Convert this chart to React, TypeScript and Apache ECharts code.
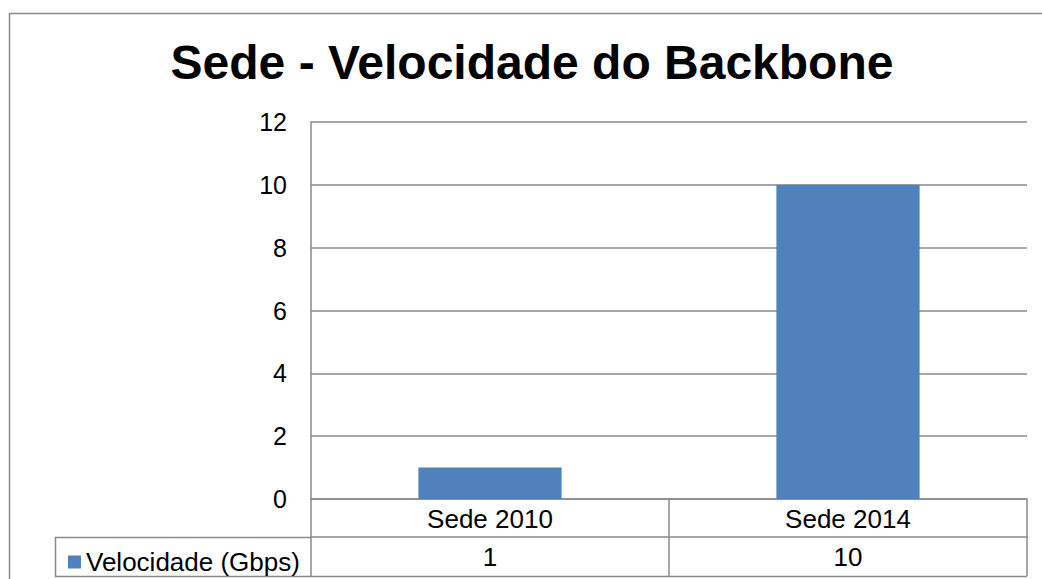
import React, { useEffect, useRef } from "react";
import * as echarts from "echarts";

const titleText = "Sede - Velocidade do Backbone";
const seriesName = "Velocidade (Gbps)";
const categories = ["Sede 2010", "Sede 2014"];
const values = [1, 10];
const yTicks = { min: 0, max: 12, interval: 2 };

const FONT = "'Liberation Sans', Arial, Helvetica, sans-serif";
const GRAY = "#8a8a8a";
const BLUE = "#4F81BD";
const LW = 1.5;

export default function App() {
  const ref = useRef<HTMLDivElement>(null);
  useEffect(() => {
    if (!ref.current) return;
    const chart = echarts.init(ref.current, undefined, { renderer: "svg" });
    chart.setOption({
      animation: false,
      backgroundColor: "#ffffff",
      textStyle: { fontFamily: FONT },
      grid: { left: 311, right: 15, top: 122, bottom: 80, containLabel: false },
      legend: {
        show: true,
        left: 63,
        top: 544,
        icon: "rect",
        itemWidth: 13,
        itemHeight: 13,
        data: [seriesName],
        textStyle: { fontSize: 26, color: "#000", fontFamily: FONT },
        selectedMode: false,
      },
      xAxis: [
        {
          type: "category",
          data: categories,
          position: "bottom",
          boundaryGap: true,
          axisLine: { show: true, lineStyle: { color: GRAY, width: LW } },
          axisTick: { show: true, alignWithLabel: false, interval: 0, length: 38, inside: false, lineStyle: { color: GRAY, width: LW } },
          axisLabel: { fontSize: 26, color: "#000", margin: 7, fontFamily: FONT, interval: 0 },
          splitLine: { show: false },
        },
        {
          type: "category",
          data: categories,
          position: "bottom",
          offset: 38,
          boundaryGap: true,
          axisLine: { show: true, lineStyle: { color: GRAY, width: LW } },
          axisTick: { show: true, alignWithLabel: false, interval: 0, length: 39, inside: false, lineStyle: { color: GRAY, width: LW } },
          axisLabel: {
            fontSize: 26,
            color: "#000",
            margin: 7,
            fontFamily: FONT,
            interval: 0,
            formatter: (_v: string, i: number) => String(values[i]),
          },
          splitLine: { show: false },
        },
      ],
      yAxis: {
        type: "value",
        min: yTicks.min,
        max: yTicks.max,
        interval: yTicks.interval,
        axisLine: { show: true, lineStyle: { color: GRAY, width: LW } },
        axisTick: { show: false },
        axisLabel: { fontSize: 25, color: "#000", margin: 24, fontFamily: FONT },
        splitLine: { show: true, lineStyle: { color: GRAY, width: LW } },
      },
      series: [
        {
          name: seriesName,
          type: "bar",
          xAxisIndex: 0,
          data: values,
          barWidth: "40%",
          itemStyle: { color: BLUE },
        },
      ],
      graphic: [
        {
          type: "rect",
          shape: { x: 9.5, y: 13.5, width: 1100, height: 700 },
          style: { fill: "none", stroke: GRAY, lineWidth: LW },
          silent: true,
          z: -10,
        },
        {
          type: "polyline",
          shape: { points: [[311, 537.5], [55.5, 537.5], [55.5, 576.5], [1027, 576.5]] },
          style: { fill: "none", stroke: GRAY, lineWidth: LW },
          silent: true,
        },
        {
          type: "text",
          x: 532,
          y: 62,
          style: {
            text: titleText,
            align: "center",
            verticalAlign: "middle",
            fontSize: 48,
            fontWeight: "bold",
            fontFamily: FONT,
            fill: "#000",
          },
          silent: true,
        },
      ],
    });
    return () => chart.dispose();
  }, []);
  return (
    <div
      ref={ref}
      style={{ position: "fixed", left: 0, top: 0, width: 1042, height: 579 }}
    />
  );
}
